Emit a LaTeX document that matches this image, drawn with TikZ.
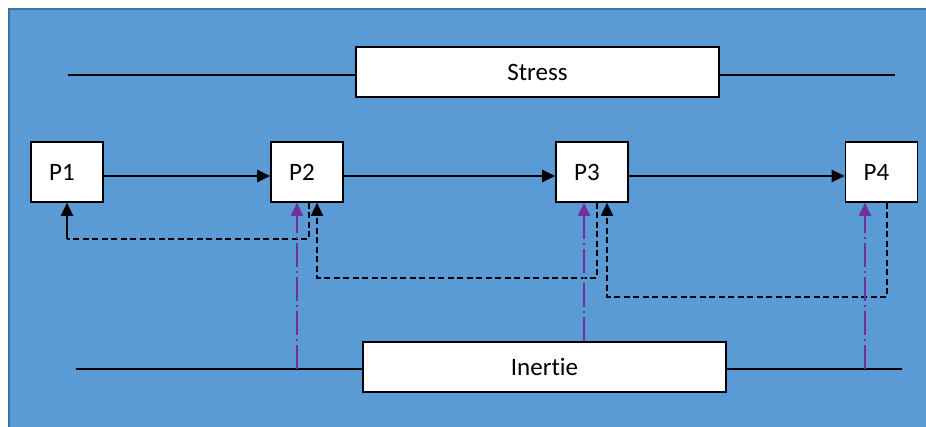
\documentclass[tikz,border=0pt]{standalone}
\usepackage{fontspec}
\setmainfont[Ligatures=NoCommon]{Carlito}
\usetikzlibrary{arrows.meta,calc}
\definecolor{bgblue}{HTML}{5B9BD5}
\definecolor{bdblue}{HTML}{41719C}
\definecolor{vio}{HTML}{7030A0}
\begin{document}
\begin{tikzpicture}[x=1pt,y=-1pt,
  every node/.style={font=\fontsize{25}{29}\selectfont},
  pbox/.style={draw=black,line width=1.6pt,fill=white,minimum width=72pt,minimum height=60pt,inner sep=0pt},
  bigbox/.style={draw=black,line width=1.6pt,fill=white,minimum width=363pt,minimum height=50pt,inner sep=0pt},
  hline/.style={line width=1.6pt},
  arr/.style={line width=2pt,-{Triangle[length=13pt,width=12pt]}},
  dashl/.style={line width=1.8pt,dash pattern=on 6pt off 3.5pt},
  vioarr/.style={vio,line width=1.8pt,dash pattern=on 24pt off 4pt on 2pt off 4pt,-{Triangle[length=13pt,width=12pt]}}]
\useasboundingbox (0,0) rectangle (926,427);
\fill[bgblue] (9,9) rectangle (930,431);
\draw[bdblue,line width=2pt] (9,431) -- (9,9) -- (930,9);
% boxes
\node[bigbox] (stress) at (537.5,72) {Stress};
\node[bigbox] (inertie) at (544.5,367) {Inertie};
\node[pbox] (P1) at (67,172) {\hspace*{-10pt}P1};
\node[pbox] (P2) at (307,172) {\hspace*{-10pt}P2};
\node[pbox] (P3) at (592,172) {\hspace*{-10pt}P3};
\node[pbox] (P4) at (881.5,172) {\hspace*{-10pt}P4};
% horizontal lines
\coordinate (sL) at (68,75);
\coordinate (sR) at (895,75);
\coordinate (iL) at (76,369);
\coordinate (iR) at (902,369);
\draw[hline] (sL) -- (sL -| stress.west);
\draw[hline] (stress.east |- sR) -- (sR);
\draw[hline] (iL) -- (iL -| inertie.west);
\draw[hline] (inertie.east |- iR) -- (iR);
% main arrows
\draw[arr] ([yshift=-4pt]P1.east) -- ([yshift=-4pt]P2.west);
\draw[arr] ([yshift=-4pt]P2.east) -- ([yshift=-4pt]P3.west);
\draw[arr] ([yshift=-4pt]P3.east) -- ([yshift=-4pt]P4.west);
% feedback dashed
\coordinate (c1) at (67,239);
\draw[dashl] ([xshift=2pt]P2.south) |- (c1);
\draw[arr] (c1) -- (P1.south);
\draw[dashl,-{Triangle[length=13pt,width=12pt]}] ([xshift=5pt]P3.south) -- ++(0,75) -| ([xshift=10pt]P2.south);
\draw[dashl,-{Triangle[length=13pt,width=12pt]}] ([xshift=5.5pt]P4.south) -- ++(0,94) -| ([xshift=15pt]P3.south);
% inertia arrows
\coordinate (v2) at (297,369);
\coordinate (v4) at (865,369);
\draw[vioarr] (v2) -- (v2 |- P2.south);
\draw[vioarr] ([xshift=-8pt]P3.south |- inertie.north) -- ([xshift=-8pt]P3.south);
\draw[vioarr] (v4) -- (v4 |- P4.south);
\end{tikzpicture}
\end{document}
